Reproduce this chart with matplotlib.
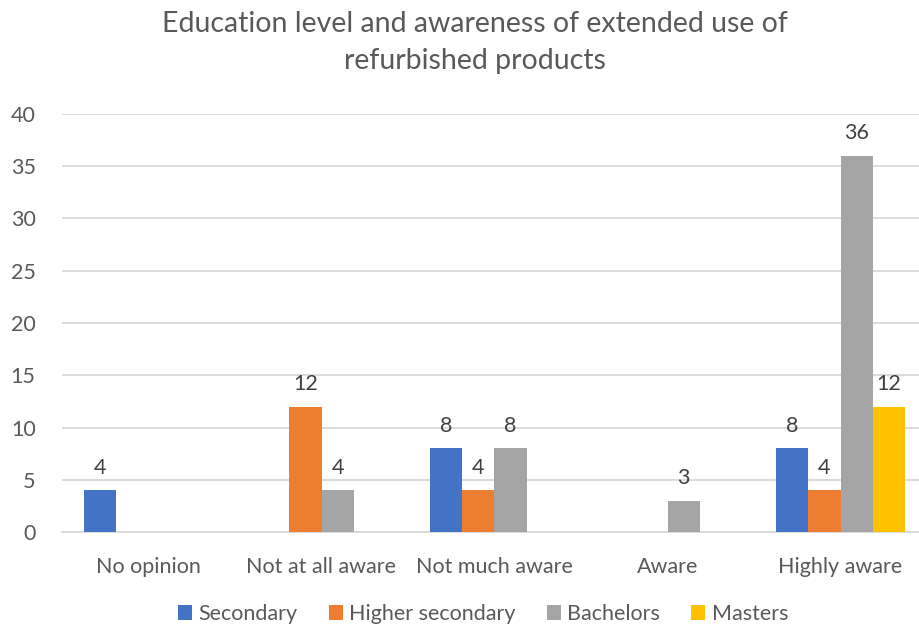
import numpy as np
import matplotlib.pyplot as plt

plt.rcParams['font.family'] = ['Lato', 'DejaVu Sans']

# data (nan = no bar)
categories = ['No opinion', 'Not at all aware', 'Not much aware', 'Aware', 'Highly aware']
series_names = ['Secondary', 'Higher secondary', 'Bachelors', 'Masters']
secondary = [4, np.nan, 8, np.nan, 8]
higher_secondary = [np.nan, 12, 4, np.nan, 4]
bachelors = [np.nan, 4, 8, 3, 36]
masters = [np.nan, np.nan, np.nan, np.nan, 12]
colors = ['#4472C4', '#ED7D31', '#A5A5A5', '#FFC000']

txt = '#595959'
fig = plt.figure(figsize=(9.2, 6.28), dpi=100)
ax = fig.add_axes([62/920, 96/628, 865/920, 418/628])

x = np.arange(len(categories))
w = 0.185
all_series = [secondary, higher_secondary, bachelors, masters]
for i, (vals, name, c) in enumerate(zip(all_series, series_names, colors)):
    pos = x + (i - 1.5) * w
    bars = ax.bar(pos, vals, width=w, color=c, label=name, zorder=3)
    for p, v in zip(pos, vals):
        if not np.isnan(v):
            ax.text(p, v + 1.2, '%d' % v, ha='center', va='bottom', fontsize=15.5, color='#404040')

ax.set_xlim(-0.5, len(categories) - 0.5)
ax.set_ylim(0, 40)
ax.set_yticks(range(0, 41, 5))
ax.set_xticks(x)
ax.set_xticklabels(categories)
ax.tick_params(axis='both', length=0, labelsize=15.5, colors=txt)
ax.tick_params(axis='x', pad=18)
ax.tick_params(axis='y', pad=19)
ax.grid(axis='y', color='#D9D9D9', linewidth=1.3, zorder=0)
for s in ['top', 'right', 'left']:
    ax.spines[s].set_visible(False)
ax.spines['bottom'].set_color('#D9D9D9')
ax.spines['bottom'].set_linewidth(1.3)

fig.text(0.516, 0.932, 'Education level and awareness of extended use of\nrefurbished products',
         ha='center', va='center', fontsize=20.5, color=txt, linespacing=1.5)

leg = fig.legend(loc='center', bbox_to_anchor=(0.525, 0.022), ncol=4, frameon=False,
                 fontsize=15.5, handlelength=0.65, handleheight=0.65, handletextpad=0.3,
                 columnspacing=1.45, labelcolor=txt)

fig.savefig('out.png', dpi=100)
